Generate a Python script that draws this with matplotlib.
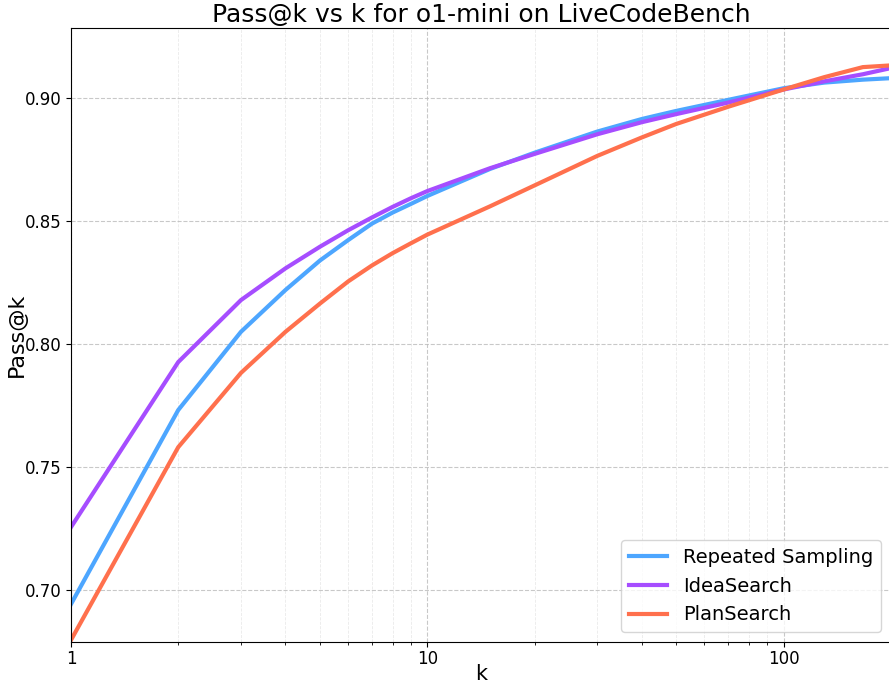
import matplotlib
matplotlib.use('Agg')
import matplotlib.pyplot as plt
from matplotlib.ticker import FormatStrFormatter, LogLocator, NullFormatter, FixedLocator

# Values
k_values = [1, 2, 3, 4, 5, 6, 7, 8, 9, 10, 15, 20, 30, 40, 50, 70, 100, 130, 167, 200]
repeated_sampling = [0.6943, 0.7732, 0.8050, 0.8220, 0.8340, 0.8423, 0.8490, 0.8535, 0.8570, 0.8602,
                     0.8712, 0.8778, 0.8864, 0.8915, 0.8948, 0.8993, 0.9040, 0.9063, 0.9075, 0.9081]
idea_search = [0.7256, 0.7927, 0.8179, 0.8308, 0.8396, 0.8463, 0.8515, 0.8558, 0.8593, 0.8622,
               0.8715, 0.8773, 0.8853, 0.8902, 0.8935, 0.8982, 0.9035, 0.9068, 0.9097, 0.9122]
plan_search = [0.6797, 0.7581, 0.7883, 0.8050, 0.8165, 0.8255, 0.8320, 0.8370, 0.8410, 0.8445,
               0.8560, 0.8645, 0.8765, 0.8840, 0.8895, 0.8965, 0.9035, 0.9085, 0.9126, 0.9133]

series = {
    'Repeated Sampling': (repeated_sampling, '#4DA6FF'),
    'IdeaSearch': (idea_search, '#A64DFF'),
    'PlanSearch': (plan_search, '#FF704D'),
}

fig = plt.figure(figsize=(8.89, 6.83), dpi=100)
ax = fig.add_axes([71 / 889, 1 - 642 / 683, 1 - 71 / 889 + 0.002, (642 - 28) / 683])

for name, (vals, color) in series.items():
    ax.plot(k_values, vals, label=name, color=color, linewidth=3)

ax.set_xscale('log')
ax.set_xlim(1, 200)
ax.set_ylim(0.6789, 0.9285)
ax.set_yticks([0.70, 0.75, 0.80, 0.85, 0.90])
ax.yaxis.set_major_formatter(FormatStrFormatter('%.2f'))
ax.xaxis.set_major_locator(FixedLocator([1, 10, 100]))
ax.set_xticklabels(['1', '10', '100'])
ax.xaxis.set_minor_locator(LogLocator(base=10, subs=range(2, 10)))
ax.xaxis.set_minor_formatter(NullFormatter())
ax.tick_params(axis='both', labelsize=12)
ax.tick_params(axis='x', pad=2)

ax.grid(True, which='major', linestyle='--', color='#bbbbbb', alpha=0.8, linewidth=0.8)
ax.grid(True, which='minor', axis='x', linestyle='--', color='#dddddd', alpha=0.6, linewidth=0.6)

ax.set_title('Pass@k vs k for o1-mini on LiveCodeBench', fontsize=18, pad=4)
ax.set_xlabel('k', fontsize=15, labelpad=-2.5)
ax.set_ylabel('Pass@k', fontsize=16, labelpad=-1.5)
ax.legend(loc='lower right', fontsize=14)

fig.savefig('out.png', dpi=100)
